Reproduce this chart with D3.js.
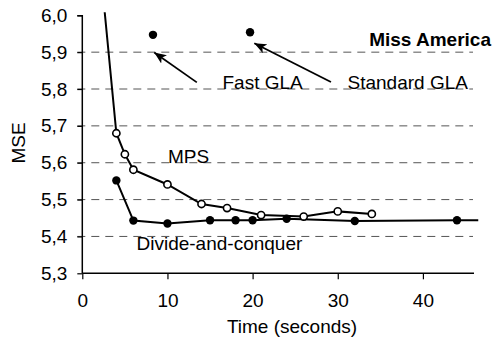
<!DOCTYPE html>
<html>
<head>
<meta charset="utf-8">
<script src="https://cdn.jsdelivr.net/npm/d3@7"></script>
<style>
  body { margin: 0; background: #fff; }
  svg { display: block; font-family: "Liberation Sans", Arial, sans-serif; }
</style>
</head>
<body>
<div id="chart"></div>
<script>
// MSE vs time, Miss America sequence
const mpsTime = [2, 4, 5, 6, 10, 14, 17, 21, 26, 30, 34];
const mpsMse = [6.16, 5.68, 5.623, 5.581, 5.541, 5.488, 5.477, 5.458, 5.454, 5.468, 5.461];

const dcTime = [4, 6, 10, 15, 18, 20, 24, 32, 44, 48];
const dcMse = [5.552, 5.443, 5.435, 5.444, 5.444, 5.444, 5.448, 5.442, 5.444, 5.444];

const glaNames = ["Fast GLA", "Standard GLA"];
const glaTime = [8.3, 19.7];
const glaMse = [5.947, 5.954];

const xTicks = [0, 10, 20, 30, 40];
const yTicks = [5.3, 5.4, 5.5, 5.6, 5.7, 5.8, 5.9, 6.0];

const W = 496, H = 339;
const margin = { top: 15.3, right: 22, bottom: 65.7, left: 82.3 };
const width = W - margin.left - margin.right;
const height = H - margin.top - margin.bottom;

const svg = d3.select("#chart").append("svg")
  .attr("width", W)
  .attr("height", H);

const g = svg.append("g")
  .attr("transform", `translate(${margin.left},${margin.top})`);

const x = d3.scaleLinear().domain([0, 46]).range([0, width]);
const y = d3.scaleLinear().domain([5.3, 6.0]).range([height, 0]);

const fmt = d => d3.format(".1f")(d).replace(".", ",");

// dashed grid
g.append("g")
  .selectAll("line")
  .data(yTicks.filter(t => t > 5.3 && t < 6.0))
  .enter().append("line")
  .attr("x1", -5).attr("x2", x(46) - 1)
  .attr("y1", d => y(d)).attr("y2", d => y(d))
  .attr("stroke", "#555")
  .attr("stroke-width", 1)
  .attr("stroke-dasharray", "8,6");

// axes
const yAxis = g.append("g")
  .call(d3.axisLeft(y).tickValues(yTicks).tickSize(5).tickPadding(10).tickFormat(fmt));
const xAxis = g.append("g")
  .attr("transform", `translate(0,${height})`)
  .call(d3.axisBottom(x).tickValues(xTicks).tickSize(6).tickPadding(14).tickFormat(d3.format("d")));

[yAxis, xAxis].forEach(a => {
  a.select(".domain").attr("stroke", "#000").attr("stroke-width", 1.5);
  a.selectAll(".tick line").attr("stroke", "#000").attr("stroke-width", 1.2);
  a.selectAll("text").attr("fill", "#000").style("font-size", "19px")
    .style("font-family", "'Liberation Sans', Arial, sans-serif");
});
yAxis.select(".domain").attr("d", `M-5,0.5H0V${height}`);
xAxis.select(".domain").attr("d", `M0,0H${width}`);

// clip
svg.append("defs").append("clipPath").attr("id", "clip")
  .append("rect").attr("x", 0).attr("y", -3).attr("width", x(46.5)).attr("height", height + 3);

const plot = g.append("g").attr("clip-path", "url(#clip)");

const line = d3.line().x(d => x(d[0])).y(d => y(d[1]));

const dc = d3.zip(dcTime, dcMse);
const mps = d3.zip(mpsTime, mpsMse);

plot.append("path").datum(dc)
  .attr("d", line).attr("fill", "none").attr("stroke", "#000").attr("stroke-width", 2);
plot.append("path").datum(mps)
  .attr("d", line).attr("fill", "none").attr("stroke", "#000").attr("stroke-width", 2);

plot.selectAll(".dc").data(dc).enter().append("circle")
  .attr("cx", d => x(d[0])).attr("cy", d => y(d[1])).attr("r", 4.2)
  .attr("fill", "#000");

plot.selectAll(".mps").data(mps).enter().append("circle")
  .attr("cx", d => x(d[0])).attr("cy", d => y(d[1])).attr("r", 3.6)
  .attr("fill", "#fff").attr("stroke", "#000").attr("stroke-width", 1.6);

g.selectAll(".gla").data(glaTime).enter().append("circle")
  .attr("cx", d => x(d)).attr("cy", (d, i) => y(glaMse[i])).attr("r", 4.2)
  .attr("fill", "#000");

// arrows
svg.select("defs").append("marker")
  .attr("id", "head").attr("viewBox", "0 0 12 10")
  .attr("refX", 12).attr("refY", 5)
  .attr("markerWidth", 12).attr("markerHeight", 10)
  .attr("markerUnits", "userSpaceOnUse")
  .attr("orient", "auto")
  .append("path").attr("d", "M0,0L12,5L0,10L3,5Z").attr("fill", "#000");

const arrows = [
  { from: [13.45, 5.818], to: [8.45, 5.899] },
  { from: [29.2, 5.819], to: [20.2, 5.924] }
];
g.selectAll(".arrow").data(arrows).enter().append("line")
  .attr("x1", d => x(d.from[0])).attr("y1", d => y(d.from[1]))
  .attr("x2", d => x(d.to[0])).attr("y2", d => y(d.to[1]))
  .attr("stroke", "#000").attr("stroke-width", 1.8)
  .attr("marker-end", "url(#head)");

// labels
const lbl = (t, px, py, opts = {}) => svg.append("text")
  .attr("x", px).attr("y", py)
  .attr("text-anchor", opts.anchor || "start")
  .attr("font-weight", opts.bold ? "bold" : "normal")
  .style("font-size", "19px")
  .attr("fill", "#000")
  .text(t);

lbl(glaNames[0], 222.5, 89);
lbl(glaNames[1], 347.5, 89);
lbl("MPS", 168, 163);
lbl("Divide-and-conquer", 136.5, 250);
lbl("Miss America", 491, 46, { anchor: "end", bold: true });
lbl("Time (seconds)", 292, 333, { anchor: "middle" });

svg.append("text")
  .attr("transform", "translate(25,143) rotate(-90)")
  .attr("text-anchor", "middle")
  .style("font-size", "19px")
  .attr("fill", "#000")
  .text("MSE");
</script>
</body>
</html>
